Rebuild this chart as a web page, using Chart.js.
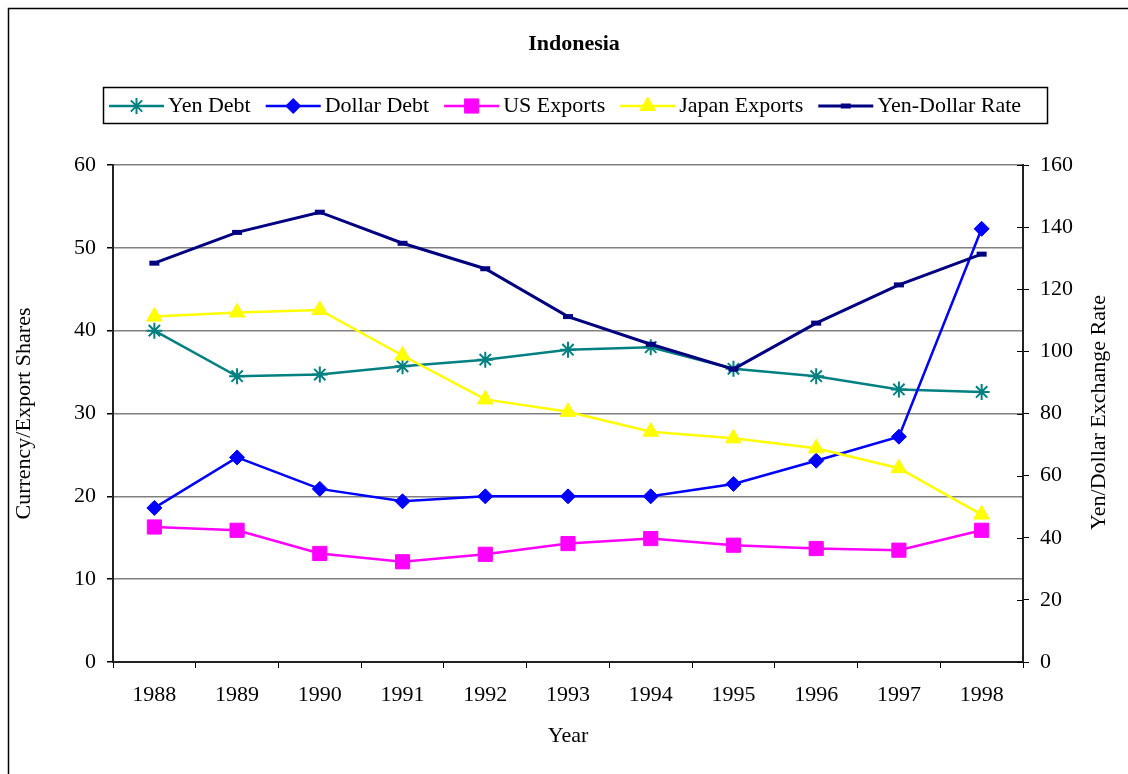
<!DOCTYPE html>
<html>
<head>
<meta charset="utf-8">
<title>Indonesia</title>
<script src="https://cdn.jsdelivr.net/npm/chart.js@4.4.0/dist/chart.umd.min.js"></script>
<style>
  html, body { margin: 0; padding: 0; background: #fff; overflow: hidden; }
  #chart { display: block; }
</style>
</head>
<body>
<canvas id="chart" width="1128" height="774"></canvas>
<script>
// values
const years = ['1988', '1989', '1990', '1991', '1992', '1993', '1994', '1995', '1996', '1997', '1998'];
const yenDebt = [40.0, 34.5, 34.7, 35.7, 36.5, 37.7, 38.0, 35.4, 34.5, 32.9, 32.6];
const dollarDebt = [18.6, 24.7, 20.9, 19.4, 20.0, 20.0, 20.0, 21.5, 24.3, 27.2, 52.3];
const usExports = [16.3, 15.9, 13.1, 12.1, 13.0, 14.3, 14.9, 14.1, 13.7, 13.5, 15.9];
const japanExports = [41.7, 42.2, 42.5, 37.0, 31.7, 30.2, 27.8, 27.0, 25.8, 23.4, 17.8];
const yenDollarRate = [128.4, 138.3, 144.8, 134.8, 126.6, 111.2, 102.3, 94.3, 109.1, 121.4, 131.3];

const leftTicks = [0, 10, 20, 30, 40, 50, 60];
const rightTicks = [0, 20, 40, 60, 80, 100, 120, 140, 160];

const FONT = '"Liberation Serif", "Times New Roman", serif';

function series(label, data, color, style, radius, bw, lw, order, axis) {
    return {
        label: label,
        data: data,
        yAxisID: axis,
        borderColor: color,
        backgroundColor: color,
        borderWidth: lw,
        pointStyle: style,
        pointRadius: radius,
        pointHoverRadius: radius,
        pointBorderWidth: bw,
        pointBackgroundColor: color,
        pointBorderColor: color,
        tension: 0,
        order: order
    };
}

// outer frame, title, legend box and right axis title
const decorations = {
    id: 'decorations',
    beforeDraw(chart) {
        const ctx = chart.ctx;
        ctx.save();
        ctx.fillStyle = '#fff';
        ctx.fillRect(0, 0, chart.width, chart.height);
        ctx.restore();
    },
    afterDraw(chart) {
        const ctx = chart.ctx;
        const area = chart.chartArea;
        ctx.save();

        ctx.strokeStyle = '#000';
        ctx.lineWidth = 1.5;
        ctx.strokeRect(8.5, 8.5, 1140, 800);

        ctx.fillStyle = '#000';
        ctx.font = 'bold 22px ' + FONT;
        ctx.textAlign = 'center';
        ctx.textBaseline = 'middle';
        ctx.fillText('Indonesia', 574, 44);

        // inner halves of the right axis tick marks
        const y1 = chart.scales.y1;
        ctx.strokeStyle = '#000';
        ctx.lineWidth = 1;
        y1.ticks.forEach(t => {
            const py = Math.round(y1.getPixelForValue(t.value)) + 0.5;
            ctx.beginPath();
            ctx.moveTo(area.right - 6, py);
            ctx.lineTo(area.right, py);
            ctx.stroke();
        });

        // right axis title, reading bottom to top
        ctx.save();
        ctx.translate(1099, (area.top + area.bottom) / 2 - 1);
        ctx.rotate(-Math.PI / 2);
        ctx.font = '22px ' + FONT;
        ctx.fillText('Yen/Dollar Exchange Rate', 0, 0);
        ctx.restore();

        // legend
        ctx.strokeStyle = '#000';
        ctx.lineWidth = 1.5;
        ctx.strokeRect(103.5, 87.5, 944, 36);
        ctx.font = '22px ' + FONT;
        ctx.textAlign = 'left';
        let x = 109;
        const ly = 106;
        chart.data.datasets.forEach(ds => {
            ctx.strokeStyle = ds.borderColor;
            ctx.lineWidth = ds.borderWidth;
            ctx.beginPath();
            ctx.moveTo(x, ly);
            ctx.lineTo(x + 55, ly);
            ctx.stroke();
            ctx.fillStyle = ds.pointBackgroundColor;
            ctx.strokeStyle = ds.pointBorderColor;
            ctx.lineWidth = ds.pointBorderWidth;
            Chart.helpers.drawPoint(ctx, {
                pointStyle: ds.pointStyle,
                radius: ds.pointRadius,
                borderWidth: ds.pointBorderWidth,
                rotation: 0
            }, x + 27.5, ly);
            ctx.fillStyle = '#000';
            ctx.fillText(ds.label, x + 59, ly);
            x += 59 + ctx.measureText(ds.label).width + 15;
        });

        ctx.restore();
    }
};

const ctx = document.getElementById('chart').getContext('2d');
new Chart(ctx, {
    type: 'line',
    data: {
        labels: years,
        datasets: [
            series('Yen Debt', yenDebt, '#008080', 'star', 8, 2, 2.5, 5, 'y'),
            series('Dollar Debt', dollarDebt, '#0000FF', 'rectRot', 7.5, 1, 2.5, 4, 'y'),
            series('US Exports', usExports, '#FF00FF', 'rect', 10, 1, 2.5, 3, 'y'),
            series('Japan Exports', japanExports, '#FFFF00', 'triangle', 9, 1, 2.5, 2, 'y'),
            series('Yen-Dollar Rate', yenDollarRate, '#000080', 'line', 5, 5, 3, 1, 'y1')
        ]
    },
    options: {
        responsive: false,
        animation: false,
        devicePixelRatio: 1,
        layout: { padding: { top: 165, left: 0, right: 0, bottom: 0 } },
        plugins: {
            legend: { display: false },
            title: { display: false },
            tooltip: { enabled: false }
        },
        scales: {
            x: {
                type: 'category',
                offset: true,
                afterFit: s => { s.height = 112; },
                grid: {
                    offset: true,
                    drawOnChartArea: false,
                    drawTicks: true,
                    tickLength: 6,
                    color: '#000',
                    lineWidth: 1
                },
                border: { display: true, color: '#222', width: 2 },
                ticks: {
                    color: '#000',
                    font: { family: FONT, size: 22 },
                    padding: 14,
                    maxRotation: 0,
                    autoSkip: false
                },
                title: {
                    display: true,
                    text: 'Year',
                    color: '#000',
                    font: { family: FONT, size: 22 },
                    padding: { top: 0, bottom: 25 }
                }
            },
            y: {
                position: 'left',
                min: leftTicks[0],
                max: leftTicks[leftTicks.length - 1],
                afterFit: s => { s.width = 113; },
                afterBuildTicks: s => { s.ticks = leftTicks.map(v => ({ value: v })); },
                grid: {
                    drawOnChartArea: true,
                    drawTicks: true,
                    tickLength: 6,
                    color: '#808080',
                    tickColor: '#000',
                    lineWidth: 1.5
                },
                border: { display: true, color: '#222', width: 2 },
                ticks: {
                    color: '#000',
                    font: { family: FONT, size: 22 },
                    padding: 11
                },
                title: {
                    display: true,
                    text: 'Currency/Export Shares',
                    color: '#000',
                    font: { family: FONT, size: 22 },
                    padding: { top: 11, bottom: 0 }
                }
            },
            y1: {
                position: 'right',
                min: rightTicks[0],
                max: rightTicks[rightTicks.length - 1],
                afterFit: s => { s.width = 105; },
                afterBuildTicks: s => { s.ticks = rightTicks.map(v => ({ value: v })); },
                grid: {
                    drawOnChartArea: false,
                    drawTicks: true,
                    tickLength: 6,
                    color: '#000',
                    lineWidth: 1
                },
                border: { display: true, color: '#222', width: 2 },
                ticks: {
                    color: '#000',
                    font: { family: FONT, size: 22 },
                    padding: 11
                },
                title: { display: false }
            }
        }
    },
    plugins: [decorations]
});
</script>
</body>
</html>
